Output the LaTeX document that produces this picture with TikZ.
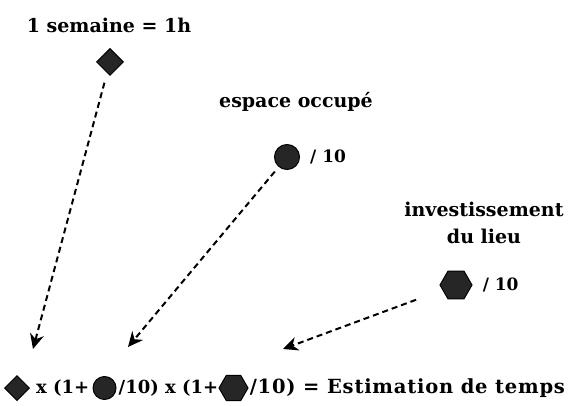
\documentclass[tikz,border=0pt]{standalone}
\usepackage{fontspec}
\setmainfont{DejaVu Serif}
\usetikzlibrary{positioning,shapes.geometric,arrows.meta}
\tikzset{
  titre/.style={font=\bfseries\fontsize{19}{27}\selectfont, align=center, inner sep=0pt},
  formule/.style={font=\bfseries\fontsize{18}{22}\selectfont, inner sep=0pt},
  surdix/.style={font=\bfseries\fontsize{17}{20}\selectfont, inner sep=0pt},
  losange/.style={diamond, fill=black!85, draw=black, line width=1pt, minimum size=27pt, inner sep=0pt},
  rond/.style={circle, fill=black!85, draw=black, line width=1pt, minimum size=25pt, inner sep=0pt},
  hexa/.style={regular polygon, regular polygon sides=6, fill=black!85, draw=black, line width=1pt, minimum size=32pt, inner sep=0pt},
  fleche/.style={dashed, dash pattern=on 6pt off 4pt, line width=2pt, -{Stealth[length=15pt,width=14pt]}}
}
\begin{document}
\begin{tikzpicture}[x=1pt,y=1pt]
\useasboundingbox (0,0) rectangle (579,405);
\clip (0,0) rectangle (579,405);
% legende en haut
\node[titre] (semaine) at (109,380) {1 semaine = 1h};
\node[losange] (d1) at (110,343) {};
\node[titre] (espace) at (296,303) {espace occupé};
\node[rond] (c1) at (287,248) {};
\node[surdix, right=10pt of c1] (sur1) {/ 10};
\node[titre] (invest) at (484,182) {investissement\\du lieu};
\node[hexa] (h1) at (456,120) {};
\node[surdix, right=10pt of h1] (sur2) {/ 10};
% pointes des fleches
\coordinate (t1) at (33,56);
\coordinate (t2) at (128,58);
\coordinate (t3) at (283,56);
\draw[fleche, shorten <=10pt] (d1) -- (t1);
\draw[fleche, shorten <=6pt] (c1) -- (t2);
\draw[fleche, shorten <=28pt] (h1) -- (t3);
% formule en bas
\node[losange, minimum size=25pt] (d2) at (17,17) {};
\node[formule, right=6pt of d2] (x1) {x (1+};
\node[rond, minimum size=23pt, right=3pt of x1] (c2) {};
\node[formule, right=2pt of c2] (x2) {/10) x (1+};
\node[hexa, minimum size=29pt, right=0pt of x2] (h2) {};
\node[formule, right=1pt of h2, font=\bfseries\fontsize{19.5}{22}\selectfont\addfontfeature{LetterSpace=4}] (x3) {/10) = Estimation de temps};
\end{tikzpicture}
\end{document}
